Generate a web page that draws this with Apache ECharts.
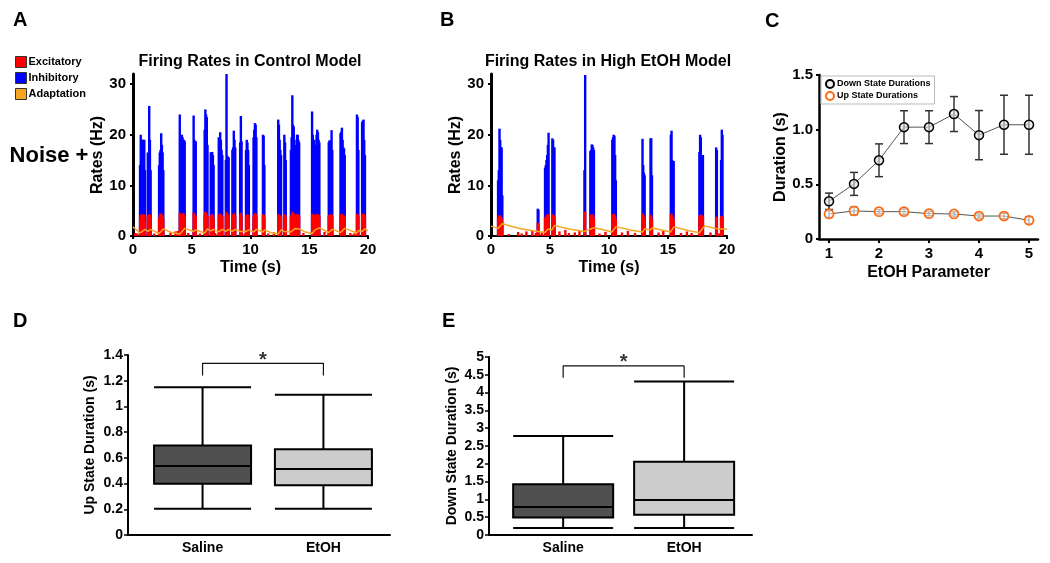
<!DOCTYPE html>
<html><head><meta charset="utf-8">
<script src="https://cdn.jsdelivr.net/npm/echarts@6/dist/echarts.min.js"></script>
<style>html,body{margin:0;padding:0;background:#fff}#c{width:1050px;height:563px}</style>
</head><body><div id="c"></div><script>
const FONT = '"Liberation Sans", Arial, Helvetica, sans-serif';

// ---------- Panel A: control model (time s, rates Hz) ----------
const ctrlT = [0.60,0.66,0.72,0.78,0.84,0.90,0.96,1.02, 1.26,1.32,1.38,1.44,1.50, 2.22,2.28,2.34,2.40,2.46,2.52,2.58,
  3.98,4.04,4.10,4.16,4.22,4.28,4.34,4.40, 5.16,5.22,5.28,5.34, 6.10,6.16,6.22,6.28,6.34, 6.62,6.68,6.74,6.80,6.86,
  7.30,7.36,7.42,7.48,7.54,7.60, 7.90,7.96,8.02,8.08,8.14, 8.46,8.52,8.58,8.64,8.70, 9.12,9.18,9.24,
  9.62,9.68,9.74,9.80,9.86, 10.26,10.32,10.38,10.44,10.50, 11.06,11.12,11.18, 12.36,12.42,12.48,12.54,12.60,
  12.88,12.94,13.00, 13.44,13.50,13.56,13.62,13.68,13.74,13.80, 13.96,14.02,14.08,14.14, 15.24,15.30,15.36,15.42,15.48,
  15.62,15.68,15.74,15.80,15.86, 16.66,16.72,16.78,16.84,16.90,16.96, 17.66,17.72,17.78,17.84,17.90,17.96,18.02,
  19.06,19.12,19.18, 19.50,19.56,19.62,19.68,19.74];
const ctrlInh = [14,20,19,17,19,19,19,13, 16.5,16,25.7,19,13, 14,16.5,17,20.3,18,16.5,13,
  24,17.5,17,20,19.5,18,19,18.7, 23.8,19,18.7,18.7, 21,25,24,23.5,18, 16.5,16.6,16.6,16,14,
  19.5,19,20.5,19,17,16, 15,32,15.7,15.7,15.5, 17,17.5,20.8,19,17.5, 18.5,23.7,18.7,
  17,19,18.5,17,14, 19.5,21,22.3,22,19.5, 20,19.8,14, 23,22,19,17,16,
  20,18.5,15, 17,19.5,27.8,22,21.6,19,18, 20,20,19,18.5, 24.6,20,19,19,18,
  20,21,20.5,19,18.5, 18.5,18.9,18.8,18,20.9,17, 20.3,20.6,21.4,19,17.5,17.3,16,
  24,23.5,17, 22.5,22.8,23,19,16];
const ctrlExc = [3.5,4.2,4.2,4.1,4.2,4.3,4.2,3.0, 4.0,4.2,4.3,4.2,3.5, 3.6,4.2,4.5,4.3,4.2,4.0,3.5,
  4.6,4.2,4.1,4.3,4.2,4.5,4.2,3.8, 4.6,4.3,4.2,4.0, 4.2,4.8,4.6,4.3,4.0, 4.0,4.2,4.3,4.1,3.6,
  4.2,4.3,4.5,4.2,4.1,3.8, 4.0,4.8,4.3,4.2,4.0, 4.0,4.2,4.5,4.3,4.0, 4.2,4.6,4.0,
  3.8,4.2,4.3,4.1,3.5, 4.0,4.3,4.5,4.4,4.0, 4.3,4.2,3.6, 4.3,4.2,4.1,4.0,3.8,
  4.3,4.2,3.8, 4.0,4.2,4.8,4.5,4.4,4.2,4.0, 4.3,4.3,4.2,4.0, 4.4,4.3,4.2,4.2,4.0,
  4.2,4.3,4.3,4.2,4.0, 4.0,4.2,4.2,4.1,4.3,3.8, 4.2,4.3,4.4,4.2,4.1,4.0,3.8,
  4.4,4.3,4.0, 4.3,4.4,4.4,4.2,3.8];
const ctrlExcNoise = [[0.2,0.6],[0.35,0.5],[1.8,0.5],[3.2,0.7],[3.6,0.9],[3.8,1.0],[4.7,0.6],[5.7,0.5],[7.0,0.6],
  [9.5,0.5],[11.5,0.5],[12.0,0.7],[14.5,0.6],[16.3,0.8],[18.5,0.6],[18.8,0.5]];
const ctrlAdapt = [[0,1.8],[0.6,0.6],[1.02,1.3],[1.26,0.9],[1.5,1.3],[2.22,0.5],[2.58,1.4],[3.2,0.75],[3.98,0.4],[4.4,1.5],
  [5.16,0.9],[5.34,1.2],[6.1,0.6],[6.34,1.4],[6.62,1.0],[6.86,1.3],[7.3,0.8],[7.6,1.3],[7.9,0.9],[8.14,1.3],
  [8.46,0.9],[8.7,1.3],[9.12,0.9],[9.24,1.2],[9.62,0.9],[9.86,1.2],[10.26,0.8],[10.5,1.3],[11.06,0.8],[11.18,1.2],
  [11.7,0.7],[12.36,0.4],[12.6,1.2],[12.88,0.9],[13.0,1.2],[13.44,0.8],[13.8,1.5],[13.96,1.2],[14.14,1.4],[14.6,0.85],
  [15.24,0.5],[15.48,1.2],[15.62,1.0],[15.86,1.6],[16.66,0.7],[16.96,1.3],[17.66,0.7],[18.02,1.5],[19.06,0.6],
  [19.18,1.1],[19.5,0.9],[19.74,1.4],[20,1.0]];

// ---------- Panel B: high EtOH model ----------
const etohT = [0.60,0.66,0.72,0.78,0.84,0.90,0.96, 3.96,4.02, 4.58,4.64,4.70,4.76,4.82,4.88, 5.20,5.26,5.32,5.38,
  7.92,7.98, 8.42,8.48,8.54,8.60,8.66,8.72, 10.28,10.34,10.40,10.46,10.52,10.58, 12.84,12.90,12.96,13.02,
  13.52,13.58,13.64, 15.24,15.30,15.36,15.42,15.48, 17.66,17.72,17.78,17.84,17.90,17.96, 19.08,19.14, 19.50,19.56,19.62];
const etohInh = [11,13,21.2,19,17.5,17.5,8, 5.4,5.2, 13.5,14,15,16,18,20.4, 19.3,19,17.5,17.5,
  13,31.8, 16.8,17,18.1,18,17.5,17, 19,19.5,20,19.8,16,11, 19.2,14,12.5,12,
  19.3,19.3,12, 20,20.8,15,14.8,14.8, 16.6,20,19.5,16,16,16, 17.5,17, 15,21,20];
const etohExc = [3.5,4.0,4.1,4.0,3.8,3.5,2.5, 2.6,2.4, 3.6,3.8,4.0,4.2,4.3,4.2, 4.3,4.2,4.0,3.6,
  4.0,4.8, 4.0,4.2,4.3,4.2,4.0,3.6, 4.2,4.3,4.4,4.2,4.0,3.4, 4.5,4.2,3.8,3.0,
  4.2,4.0,3.4, 4.3,4.4,4.0,3.8,3.5, 4.0,4.2,4.2,4.1,4.0,3.8, 3.8,3.6, 3.8,4.0,3.9];
const etohExcNoise = [[1.5,0.4],[2.3,0.8],[2.6,0.5],[3.0,0.9],[3.5,1.1],[3.8,0.6],[4.3,0.7],[5.8,0.9],[6.3,1.2],[6.6,0.6],
  [7.1,0.7],[7.5,1.0],[9.2,0.5],[9.7,0.8],[11.1,0.7],[11.6,1.0],[12.2,0.6],[14.2,0.7],[14.6,1.1],[16.1,0.6],
  [16.6,0.9],[17.0,0.6],[18.6,0.7],[19.3,0.5]];
const etohAdapt = [[0,1.95],[0.6,1.5],[0.95,2.4],[2.5,1.45],[4.56,0.7],[4.85,1.4],[5.15,1.2],[5.4,2.1],[6.6,1.4],[7.9,0.9],
  [8.0,1.1],[8.75,1.65],[9.6,1.2],[10.25,0.8],[10.6,1.85],[11.8,1.2],[12.84,0.8],[13.05,1.45],[13.5,1.2],[13.7,1.6],
  [15.22,0.8],[15.5,1.8],[16.7,1.1],[17.66,0.65],[18.1,2.0],[19.05,1.5],[19.2,1.6],[19.5,1.4],[19.65,1.6],[20,1.4]];

// ---------- Panel C ----------
const etohParam = [1,1.5,2,2.5,3,3.5,4,4.5,5];
const downMean = [0.345,0.504,0.72,1.023,1.023,1.143,0.95,1.045,1.045];
const downErr  = [0.075,0.105,0.15,0.15,0.15,0.16,0.225,0.27,0.27];
const upMean   = [0.229,0.257,0.25,0.25,0.232,0.229,0.21,0.21,0.171];
const upErr    = [0.03,0.035,0.02,0.025,0.02,0.02,0.02,0.025,0.03];

// ---------- Panels D, E ----------
const groups = ['Saline','EtOH'];
const boxD = [[0.205,0.399,0.537,0.697,1.149],[0.205,0.386,0.513,0.666,1.091]];
const boxE = [[0.196,0.494,0.784,1.427,2.78],[0.196,0.569,0.98,2.06,4.31]];
const sigD = [[0,1.24],[0,1.335],[1,1.335],[1,1.24]];
const sigE = [[0,4.42],[0,4.75],[1,4.75],[1,4.42]];
const starD = [0.5,1.335];
const starE = [0.5,4.75];

// ---------- helpers ----------
const pairs = (t, v) => t.map((x, i) => [x, v[i]]);
const txt = (size) => ({color:'#000', fontWeight:'bold', fontSize:size, fontFamily:FONT});
const BLUE = '#0000ff', RED = '#ff0000', ORANGE = '#f5a623', UPORANGE = '#ff6a10';
const boxFills = ['#505050', '#cccccc'];

function timeX(grid){
  return {type:'value', gridIndex:grid, min:0, max:20, interval:5,
    axisLine:{show:true, lineStyle:{color:'#000', width:2}},
    axisTick:{show:true, length:3, lineStyle:{color:'#000', width:2}},
    axisLabel:Object.assign(txt(15), {margin:6}),
    splitLine:{show:false}, name:'Time (s)', nameLocation:'middle', nameGap:24, nameTextStyle:txt(16)};
}
function rateY(grid){
  return {type:'value', gridIndex:grid, min:0, max:32,
    axisLine:{show:true, lineStyle:{color:'#000', width:3}},
    axisTick:{show:true, length:3, customValues:[0,10,20,30], lineStyle:{color:'#000', width:2}},
    axisLabel:Object.assign(txt(15), {margin:7, customValues:[0,10,20,30]}),
    splitLine:{show:false}, name:'Rates (Hz)', nameLocation:'middle', nameGap:25, nameTextStyle:txt(16)};
}
function errSeries(mean, err, color){
  return {type:'custom', xAxisIndex:2, yAxisIndex:2, z:2, silent:true,
    data: etohParam.map((x,i)=>[x, mean[i]-err[i], mean[i]+err[i]]),
    encode:{x:0, y:[1,2]},
    renderItem(params, api){
      const x = api.value(0);
      const lo = api.coord([x, api.value(1)]), hi = api.coord([x, api.value(2)]);
      const w = 4, st = {stroke:color, lineWidth:1.5};
      return {type:'group', children:[
        {type:'line', shape:{x1:hi[0], y1:hi[1], x2:lo[0], y2:lo[1]}, style:st},
        {type:'line', shape:{x1:hi[0]-w, y1:hi[1], x2:hi[0]+w, y2:hi[1]}, style:st},
        {type:'line', shape:{x1:lo[0]-w, y1:lo[1], x2:lo[0]+w, y2:lo[1]}, style:st}
      ]};
    }};
}
function groupX(grid, min, max){
  return {type:'value', gridIndex:grid, min:min, max:max,
    axisLine:{show:true, onZero:false, lineStyle:{color:'#000', width:2}},
    axisTick:{show:false},
    axisLabel:Object.assign(txt(14), {margin:6, customValues:[0,1], formatter:v=>groups[Math.round(v)]}),
    splitLine:{show:false}};
}
function durY(grid, max, interval, name, gap){
  return {type:'value', gridIndex:grid, min:0, max:max, interval:interval,
    axisLine:{show:true, onZero:false, lineStyle:{color:'#000', width:2}},
    axisTick:{show:true, length:4, lineStyle:{color:'#000', width:1.5}},
    axisLabel:Object.assign(txt(14), {margin:5, formatter:v=>String(parseFloat(v.toFixed(2)))}),
    splitLine:{show:false}, name:name, nameLocation:'middle', nameGap:gap, nameTextStyle:txt(14)};
}
function boxSeries(grid, boxes, bw){
  return {type:'boxplot', xAxisIndex:grid, yAxisIndex:grid, boxWidth:[bw,bw], silent:true,
    data: boxes.map((d,i)=>({value:[i].concat(d), itemStyle:{color:boxFills[i]}})),
    itemStyle:{borderColor:'#000', borderWidth:2}};
}
function sigSeries(grid, pts, star){
  return [
    {type:'line', xAxisIndex:grid, yAxisIndex:grid, data:pts, symbol:'none', silent:true,
     lineStyle:{color:'#111', width:1.2}},
    {type:'scatter', xAxisIndex:grid, yAxisIndex:grid, data:[star], symbolSize:1, silent:true,
     itemStyle:{color:'rgba(0,0,0,0)'},
     label:{show:true, formatter:'*', position:'inside', offset:[0,-3], fontSize:20, fontWeight:'bold', color:'#000', fontFamily:FONT}}
  ];
}
function burstSeries(axis, t, inh, exc, noise, adapt){
  return [
    {name:'Inhibitory', type:'bar', xAxisIndex:axis, yAxisIndex:axis, data:pairs(t, inh), barWidth:2.4, barGap:'-100%',
     itemStyle:{color:BLUE}, silent:true},
    {name:'Excitatory', type:'bar', xAxisIndex:axis, yAxisIndex:axis, data:pairs(t, exc).concat(noise), barWidth:2.4, barGap:'-100%',
     itemStyle:{color:RED}, silent:true},
    {name:'Adaptation', type:'line', xAxisIndex:axis, yAxisIndex:axis, data:adapt, symbol:'none', silent:true,
     lineStyle:{color:ORANGE, width:1.5}, itemStyle:{color:ORANGE}}
  ];
}

const gtext = (x, y, text, size, align, valign) => ({type:'text', x:x, y:y, silent:true,
  style:{text:text, font:'bold '+size+'px '+FONT, fill:'#000', align:align||'left', verticalAlign:valign||'top'}});

const option = {
  animation:false,
  backgroundColor:'#fff',
  textStyle:{fontFamily:FONT},
  grid:[
    {left:133, top:74, width:235, height:162, outerBoundsMode:'none'},
    {left:491, top:74, width:236, height:162, outerBoundsMode:'none'},
    {left:819, top:75, width:219, height:164, outerBoundsMode:'none'},
    {left:128, top:355, width:262, height:180, outerBoundsMode:'none'},
    {left:489, top:357, width:263, height:178, outerBoundsMode:'none'}
  ],
  xAxis:[
    timeX(0), timeX(1),
    {type:'value', gridIndex:2, min:0.8, max:5.18,
     axisLine:{show:true, lineStyle:{color:'#000', width:2.5}},
     axisTick:{show:true, length:4, customValues:[1,2,3,4,5], lineStyle:{color:'#000', width:2}},
     axisLabel:Object.assign(txt(15), {margin:7, customValues:[1,2,3,4,5]}),
     splitLine:{show:false}, name:'EtOH Parameter', nameLocation:'middle', nameGap:26, nameTextStyle:txt(16)},
    groupX(3, -0.617, 1.551),
    groupX(4, -0.613, 1.561)
  ],
  yAxis:[
    rateY(0), rateY(1),
    {type:'value', gridIndex:2, min:0, max:1.5, interval:0.5,
     axisLine:{show:true, onZero:false, lineStyle:{color:'#000', width:2.5}},
     axisTick:{show:true, length:3, lineStyle:{color:'#000', width:2}},
     axisLabel:Object.assign(txt(15), {margin:6, formatter:v=>v===0?'0':v.toFixed(1)}),
     splitLine:{show:false}, name:'Duration (s)', nameLocation:'middle', nameGap:28, nameTextStyle:txt(16)},
    durY(3, 1.4, 0.2, 'Up State Duration (s)', 31),
    durY(4, 5, 0.5, 'Down State Duration (s)', 30)
  ],
  legend:[
    {left:15, top:56, orient:'vertical', itemWidth:11, itemHeight:11, itemGap:4, padding:0, icon:'rect',
     selectedMode:false, data:['Excitatory','Inhibitory','Adaptation'],
     itemStyle:{borderColor:'#333', borderWidth:1}, textStyle:Object.assign(txt(11), {padding:[0,0,0,-3]})},
    {left:821, top:76, orient:'vertical', itemWidth:8, itemHeight:8, itemGap:2, padding:[3,4,3,4],
     borderColor:'#bbb', borderWidth:1, backgroundColor:'#fff', icon:'circle', selectedMode:false,
     data:['Down State Durations','Up State Durations'], textStyle:Object.assign(txt(9), {padding:[0,0,0,-2]})}
  ],
  series:[
    ...burstSeries(0, ctrlT, ctrlInh, ctrlExc, ctrlExcNoise, ctrlAdapt),
    ...burstSeries(1, etohT, etohInh, etohExc, etohExcNoise, etohAdapt),
    errSeries(downMean, downErr, '#333'),
    errSeries(upMean, upErr, '#777'),
    {name:'Down State Durations', type:'line', xAxisIndex:2, yAxisIndex:2, z:3, silent:true,
     data:pairs(etohParam, downMean), symbol:'circle', symbolSize:9,
     lineStyle:{color:'#555', width:1}, itemStyle:{color:'rgba(225,225,225,0.6)', borderColor:'#000', borderWidth:1.5}},
    {name:'Up State Durations', type:'line', xAxisIndex:2, yAxisIndex:2, z:3, silent:true,
     data:pairs(etohParam, upMean), symbol:'circle', symbolSize:9,
     lineStyle:{color:'#555', width:1}, itemStyle:{color:'rgba(255,255,255,0.5)', borderColor:UPORANGE, borderWidth:1.8}},
    boxSeries(3, boxD, 97),
    ...sigSeries(3, sigD, starD),
    boxSeries(4, boxE, 100),
    ...sigSeries(4, sigE, starE)
  ],
  graphic:[
    gtext(13, 10, 'A', 20), gtext(440, 10, 'B', 20), gtext(765, 11, 'C', 20),
    gtext(13, 311, 'D', 20), gtext(442, 311, 'E', 20),
    gtext(250, 62, 'Firing Rates in Control Model', 16, 'center', 'middle'),
    gtext(608, 62, 'Firing Rates in High EtOH Model', 16, 'center', 'middle'),
    gtext(49, 156, 'Noise +', 22, 'center', 'middle')
  ]
};
const chart = echarts.init(document.getElementById('c'));
chart.setOption(option);
</script></body></html>
